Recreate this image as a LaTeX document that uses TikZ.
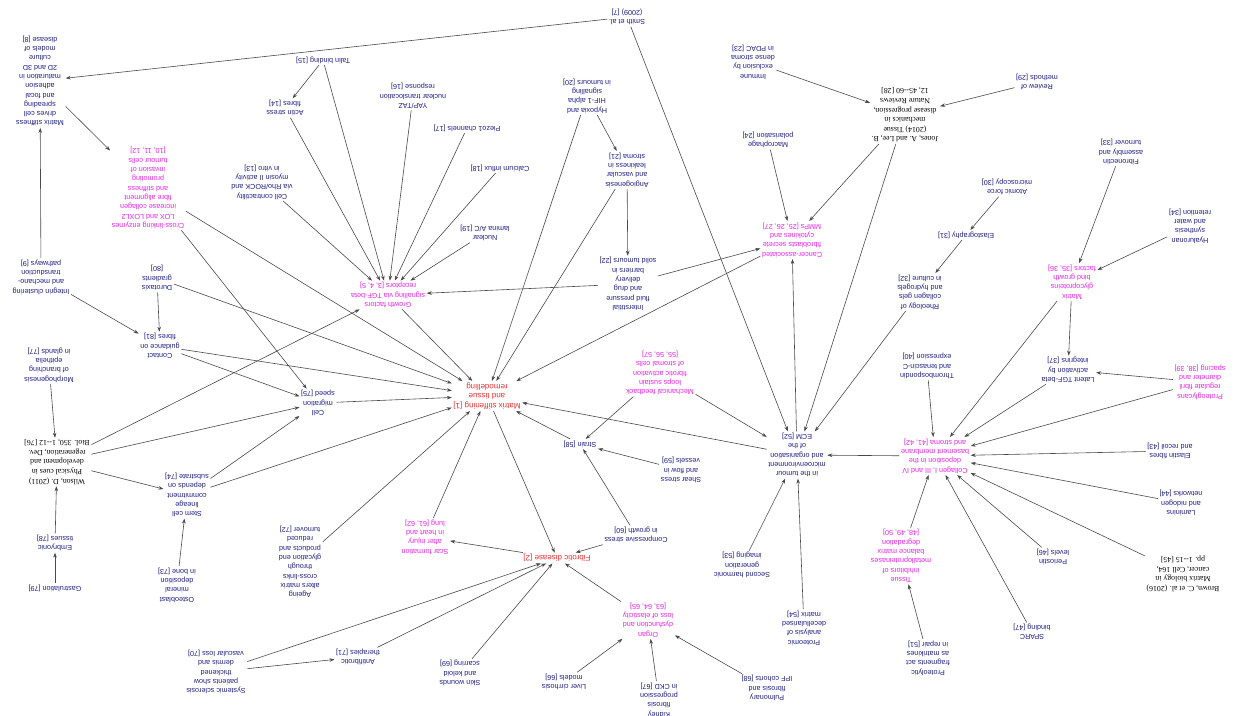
\documentclass[tikz,border=0pt]{standalone}
\usepackage{fontspec}
\setmainfont{Liberation Sans}
\newfontfamily\serifface{Liberation Serif}
\usetikzlibrary{arrows.meta}
\definecolor{navy}{HTML}{1E1E82}
\definecolor{mag}{HTML}{E623E6}
\definecolor{redc}{HTML}{EE3030}
\definecolor{edgec}{HTML}{4A4A4A}
\tikzset{
  lbl/.style={rotate=180, align=center, inner sep=1.5pt, font=\fontsize{7.2}{9.3}\selectfont},
  bn/.style={lbl, text=navy},
  mn/.style={lbl, text=mag},
  rn/.style={lbl, text=redc, font=\fontsize{8}{9.6}\selectfont},
  kn/.style={lbl, text=black, font=\serifface\fontsize{7.8}{9.6}\selectfont},
  ar/.style={draw=edgec, line width=0.6pt, -{Stealth[length=5pt,width=3.6pt]}},
}
\begin{document}
\begin{tikzpicture}[x=1pt,y=-1pt]
\fill[white] (0,0) rectangle (1246,715);
\path[use as bounding box] (0,0) rectangle (1246,715);

% central concepts
\node[rn] (A) at (487,396) {Matrix stiffening [1]\\and tissue\\remodelling};
\node[rn] (B) at (557,558) {Fibrotic disease [2]};

% upper left cluster
\node[bn] (top) at (627,17) {Smith et al.\\(2009) [7]};
\node[bn] (tl) at (40,81) {Matrix stiffness\\drives cell\\spreading\\and focal\\adhesion\\maturation in\\2D and 3D\\culture\\models of\\disease [8]};
\node[bn] (l2) at (41,277) {Integrin clustering\\and mechano-\\transduction\\pathways [9]};
\node[mn] (m2) at (148,188) {Cross-linking enzymes\\LOX and LOXL2\\increase collagen\\fibre alignment\\and stiffness\\promoting\\invasion of\\tumour cells\\{}[10, 11, 12]};
\node[bn] (na) at (262,182) {Cell contractility\\via Rho/ROCK and\\myosin II activity\\in vitro [13]};
\node[bn] (nb) at (285,108) {Actin stress\\fibres [14]};
\node[bn] (nc) at (323,60) {Talin binding [15]};
\node[bn] (nd) at (413,96) {YAP/TAZ\\nuclear translocation\\response [16]};
\node[bn] (ny) at (467,128) {Piezo1 channels [17]};
\node[bn] (nz) at (500,168) {Calcium influx [18]};
\node[bn] (naa) at (485,233) {Nuclear\\lamina A/C [19]};
\node[mn] (m1) at (388,295) {Growth factors\\signalling via TGF-beta\\receptors [3, 4, 5]};

% upper middle
\node[bn] (nv) at (587,96) {Hypoxia and\\HIF-1 alpha\\signalling\\in tumours [20]};
\node[bn] (nw) at (627,170) {Angiogenesis\\and vascular\\leakiness in\\stroma [21]};
\node[bn] (nx) at (628,284) {Interstitial\\fluid pressure\\and drug\\delivery\\barriers in\\solid tumours [22]};
\node[bn] (ncc) at (753,62) {Immune\\exclusion by\\dense stroma\\in PDAC [23]};
\node[bn] (nbb) at (768,140) {Macrophage\\polarisation [24]};
\node[mn] (m3) at (792,240) {Cancer-associated\\fibroblasts secrete\\cytokines and\\MMPs [25, 26, 27]};
\node[kn] (kt) at (905,115) {Jones, A. and Lee, B.\\(2014) Tissue\\mechanics in\\disease progression,\\Nature Reviews\\12, 45--60 [28]};
\node[bn] (ndd) at (1037,82) {Review of\\methods [29]};

% upper right
\node[bn] (nee) at (1007,187) {Atomic force\\microscopy [30]};
\node[bn] (nff) at (966,235) {Elastography [31]};
\node[bn] (nu) at (920,292) {Rheology of\\collagen gels\\and hydrogels\\in culture [32]};
\node[bn] (ngg) at (1121,152) {Fibronectin\\assembly and\\turnover [33]};
\node[bn] (nhh) at (1190,226) {Hyaluronan\\synthesis\\and water\\retention [34]};
\node[mn] (m4) at (1072,282) {Matrix\\glycoproteins\\bind growth\\factors [35, 36]};
\node[bn] (nii) at (1068,370) {Latent TGF-beta\\activation by\\integrins [37]};
\node[mn] (m6) at (1200,382) {Proteoglycans\\regulate fibril\\diameter and\\spacing [38, 39]};
\node[bn] (njj) at (927,366) {Thrombospondin\\and tenascin-C\\expression [40]};
\node[mn] (m5) at (935,456) {Collagen I, III and IV\\deposition in the\\basement membrane\\and stroma [41, 42]};

% lower right
\node[bn] (nkk) at (1170,451) {Elastin fibres\\and recoil [43]};
\node[bn] (nll) at (1181,503) {Laminins\\and nidogen\\networks [44]};
\node[kn] (km) at (1183,574) {Brown, C. et al. (2016)\\Matrix biology in\\cancer, Cell 164,\\pp. 1--15 [45]};
\node[bn] (nnn) at (1053,557) {Periostin\\levels [46]};
\node[bn] (noo) at (1032,632) {SPARC\\binding [47]};
\node[mn] (m9) at (901,556) {Tissue\\inhibitors of\\metalloproteinases\\balance matrix\\degradation\\{}[48, 49, 50]};
\node[bn] (npp) at (928,658) {Proteolytic\\fragments act\\as matrikines\\in repair [51]};

% lower middle
\node[bn] (rc) at (797,455) {in the tumour\\microenvironment\\and organisation\\of the\\ECM [52]};
\node[bn] (no) at (742,565) {Second harmonic\\generation\\imaging [53]};
\node[bn] (np) at (804,628) {Proteomic\\analysis of\\decellularised\\matrix [54]};
\node[mn] (m7) at (660,373) {Mechanical feedback\\loops sustain\\fibrotic activation\\of stromal cells\\{}[55, 56, 57]};
\node[bn] (nl) at (580,444) {Strain [58]};
\node[bn] (nm) at (681,470) {Shear stress\\and flow in\\vessels [59]};
\node[bn] (nn) at (636,535) {Compressive stress\\in growth [60]};
\node[mn] (m8) at (425,537) {Scar formation\\after injury\\in heart and\\lung [61, 62]};
\node[mn] (m10) at (648,620) {Organ\\dysfunction and\\loss of elasticity\\{}[63, 64, 65]};
\node[bn] (nq) at (564,682) {Liver cirrhosis\\models [66]};
\node[bn] (nr) at (659,700) {Kidney\\fibrosis\\progression\\in CKD [67]};
\node[bn] (ns) at (767,688) {Pulmonary\\fibrosis and\\IPF cohorts [68]};
\node[bn] (nt) at (460,673) {Skin wounds\\and keloid\\scarring [69]};

% lower left
\node[bn] (nj) at (216,672) {Systemic sclerosis\\patients show\\thickened\\dermis and\\vascular loss [70]};
\node[bn] (nk) at (358,657) {Antifibrotic\\therapies [71]};
\node[bn] (ni) at (300,562) {Ageing\\alters matrix\\cross-links\\through\\glycation end\\products and\\reduced\\turnover [72]};
\node[bn] (nh) at (177,585) {Osteoblast\\mineral\\deposition\\in bone [73]};
\node[bn] (ng) at (187,495) {Stem cell\\lineage\\commitment\\depends on\\substrate [74]};
\node[bn] (mid) at (318,403) {Cell\\migration\\speed [75]};
\node[kn] (kb) at (57,462) {Wilson, D. (2011)\\Physical cues in\\development and\\regeneration, Dev.\\Biol. 350, 1--12 [76]};
\node[bn] (l3) at (49,365) {Morphogenesis\\of branching\\epithelia\\in glands [77]};
\node[bn] (l4) at (55,543) {Embryonic\\tissues [78]};
\node[bn] (l5) at (55,588) {Gastrulation [79]};
\node[bn] (ne) at (157,278) {Durotaxis\\gradients\\{}[80]};
\node[bn] (nf) at (160,346) {Contact\\guidance on\\fibres [81]};

% connectors
\draw[ar] (top) -- (tl);
\draw[ar] (top) -- (rc);
\draw[ar] (tl) -- (m2);
\draw[ar] (l2) -- (tl);
\draw[ar] (m2) -- (A);
\draw[ar] (m2) -- (mid);
\draw[ar] (na) -- (m1);
\draw[ar] (nb) -- (m1);
\draw[ar] (nc) -- (nb);
\draw[ar] (nc) -- (m1);
\draw[ar] (nd) -- (m1);
\draw[ar] (ny) -- (m1);
\draw[ar] (nz) -- (m1);
\draw[ar] (naa) -- (m1);
\draw[ar] (nx) -- (m1);
\draw[ar] (kb) -- (m1);
\draw[ar] (m1) -- (A);
\draw[ar] (nv) -- (A);
\draw[ar] (nv) -- (nw);
\draw[ar] (nw) -- (A);
\draw[ar] (nw) -- (nx);
\draw[ar] (nx) -- (m3);
\draw[ar] (nbb) -- (m3);
\draw[ar] (kt) -- (m3);
\draw[ar] (ncc) -- (kt);
\draw[ar] (ndd) -- (kt);
\draw[ar] (kt) -- (rc);
\draw[ar] (m3) -- (A);
\draw[ar] (rc) -- (m3);
\draw[ar] (nee) -- (nff);
\draw[ar] (nff) -- (nu);
\draw[ar] (nu) -- (rc);
\draw[ar] (ngg) -- (m4);
\draw[ar] (nhh) -- (m4);
\draw[ar] (m4) -- (nii);
\draw[ar] (m4) -- (m5);
\draw[ar] (nii) -- (m5);
\draw[ar] (m6) -- (nii);
\draw[ar] (m6) -- (m5);
\draw[ar] (njj) -- (m5);
\draw[ar] (m5) -- (rc);
\draw[ar] (nkk) -- (m5);
\draw[ar] (nll) -- (m5);
\draw[ar] (km) -- (m5);
\draw[ar] (nnn) -- (m5);
\draw[ar] (noo) -- (m5);
\draw[ar] (m9) -- (m5);
\draw[ar] (npp) -- (m9);
\draw[ar] (rc) -- (A);
\draw[ar] (no) -- (rc);
\draw[ar] (np) -- (rc);
\draw[ar] (m7) -- (nl);
\draw[ar] (m7) -- (rc);
\draw[ar] (nl) -- (A);
\draw[ar] (nm) -- (nl);
\draw[ar] (nn) -- (nl);
\draw[ar] (nn) -- (B);
\draw[ar] (A) -- (B);
\draw[ar] (B) -- (m8);
\draw[ar] (m8) -- (A);
\draw[ar] (m10) -- (B);
\draw[ar] (nq) -- (m10);
\draw[ar] (nr) -- (m10);
\draw[ar] (ns) -- (m10);
\draw[ar] (nt) -- (B);
\draw[ar] (nj) -- (B);
\draw[ar] (nj) -- (nk);
\draw[ar] (nk) -- (B);
\draw[ar] (ni) -- (A);
\draw[ar] (l3) -- (kb);
\draw[ar] (l4) -- (kb);
\draw[ar] (l5) -- (l4);
\draw[ar] (kb) -- (mid);
\draw[ar] (kb) -- (ng);
\draw[ar] (nh) -- (ng);
\draw[ar] (ng) -- (mid);
\draw[ar] (ng) -- (A);
\draw[ar] (mid) -- (A);
\draw[ar] (ne) -- (nf);
\draw[ar] (ne) -- (A);
\draw[ar] (l2) -- (nf);
\draw[ar] (nf) -- (A);
\draw[ar] (nf) -- (mid);
\end{tikzpicture}
\end{document}
